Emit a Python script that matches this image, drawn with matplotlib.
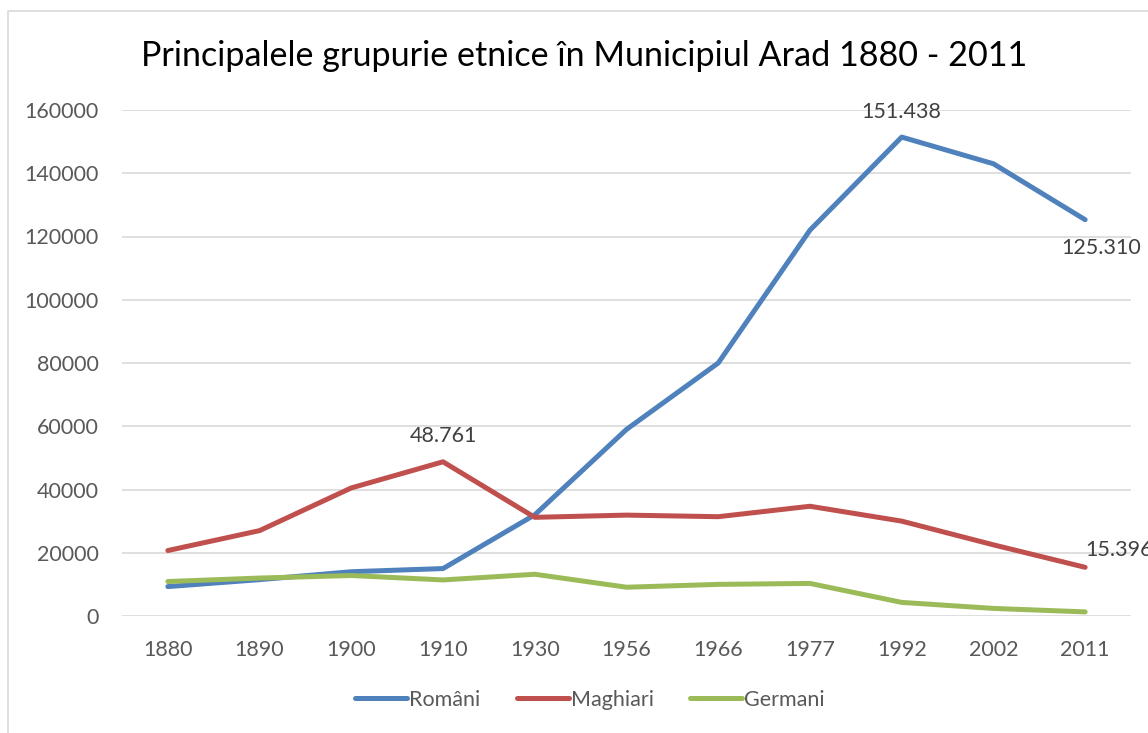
import matplotlib.pyplot as plt
import numpy as np

plt.rcParams['font.family'] = ['Lato', 'DejaVu Sans']

years = ['1880', '1890', '1900', '1910', '1930', '1956', '1966', '1977', '1992', '2002', '2011']
romani = [9300, 11500, 14000, 15000, 32000, 59000, 80000, 122000, 151438, 143000, 125310]
maghiari = [20700, 27000, 40500, 48761, 31200, 31900, 31400, 34700, 30000, 22500, 15396]
germani = [10900, 12000, 12800, 11400, 13200, 9100, 10000, 10300, 4300, 2400, 1300]

c_ro = '#4F81BD'
c_ma = '#C0504D'
c_ge = '#9BBB59'
grey = '#595959'
fs = 15.5

fig = plt.figure(figsize=(11.48, 7.33), dpi=100)
# thin chart border like in the spreadsheet export
fig.patches.append(plt.Rectangle((8 / 1148, -0.01), 1.1, 1 - 11 / 733 + 0.01,
                                 transform=fig.transFigure, fill=False,
                                 edgecolor='#D9D9D9', lw=1.2))

ax = fig.add_axes([122 / 1148, 1 - 616 / 733, (1131 - 122) / 1148, (616 - 110) / 733])
x = np.arange(len(years))

ax.plot(x, romani, color=c_ro, lw=3.6, solid_capstyle='round', label='Români')
ax.plot(x, maghiari, color=c_ma, lw=3.6, solid_capstyle='round', label='Maghiari')
ax.plot(x, germani, color=c_ge, lw=3.6, solid_capstyle='round', label='Germani')

ax.set_xlim(-0.5, len(years) - 0.5)
ax.set_ylim(0, 160000)
ax.set_yticks(np.arange(0, 160001, 20000))
ax.set_yticklabels([str(v) for v in range(0, 160001, 20000)])
ax.set_xticks(x)
ax.set_xticklabels(years)
ax.tick_params(length=0, labelsize=fs, colors=grey, pad=17)
ax.tick_params(axis='x', pad=17)
ax.grid(axis='y', color='#D9D9D9', lw=1.2)
ax.set_axisbelow(True)
for s in ax.spines.values():
    s.set_visible(False)

# data labels
lab = dict(fontsize=fs, color='#404040', ha='center', va='center', clip_on=False)
ax.text(x[3], 57000, '48.761', **lab)
ax.text(x[8], 159300, '151.438', **lab)
ax.text(x[10] + 0.17, 116500, '125.310', **lab)
ax.text(x[10] + 0.37, 21000, '15.396', **lab)

fig.text(584 / 1148, 1 - 56 / 733, 'Principalele grupurie etnice în Municipiul Arad 1880 - 2011',
         ha='center', va='center', fontsize=24.6, color='black')

leg = ax.legend(loc='center', bbox_to_anchor=(590 / 1148, 1 - 700 / 733),
                bbox_transform=fig.transFigure, ncol=3, frameon=False,
                fontsize=fs, handlelength=2.4, handletextpad=0.1, columnspacing=1.7)
for t in leg.get_texts():
    t.set_color(grey)

fig.savefig('out.png', dpi=100)
